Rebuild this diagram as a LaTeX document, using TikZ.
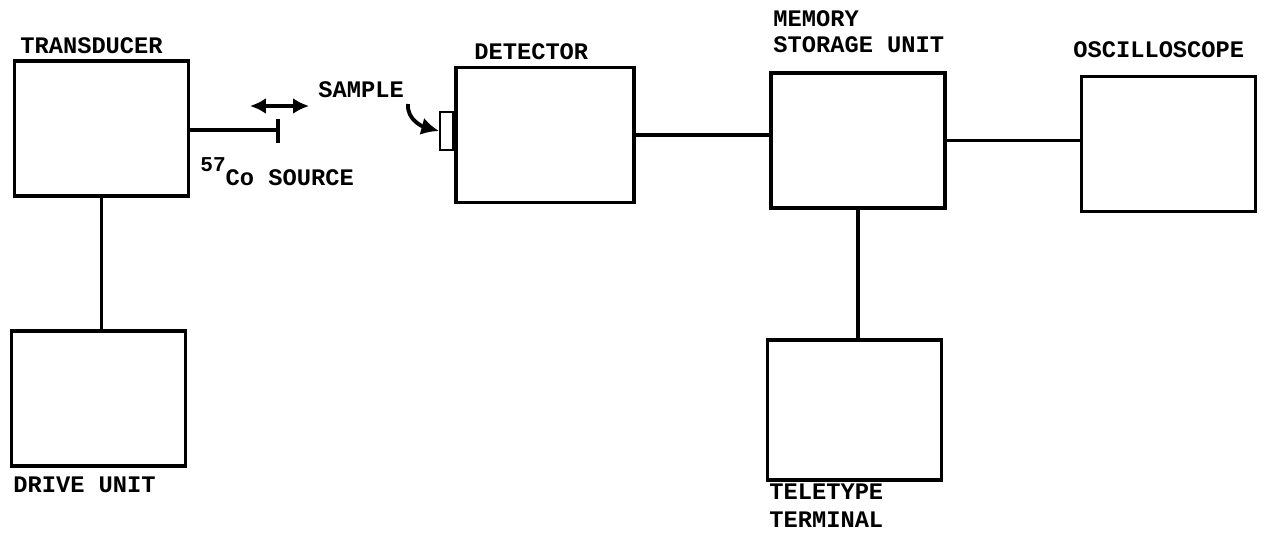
\documentclass[tikz,border=0pt]{standalone}
\usepackage{fontspec}
\newfontfamily\typefont{Liberation Mono}
\usetikzlibrary{arrows.meta, positioning, calc}

\begin{document}
\begin{tikzpicture}[
  x=0.02cm, y=-0.02cm,
  unit/.style={rectangle, draw, line width=2pt, minimum width=3.48cm, minimum height=2.7cm},
  lbl/.style={anchor=west, inner sep=0pt, align=left, font=\typefont\bfseries\fontsize{13.5}{14.6}\selectfont},
  wire/.style={line width=1.8pt},
]
  \useasboundingbox (0,0) rectangle (1266,547);

  \node[unit] (trans) at (101.5,128.5) {};
  \node[unit] (drive) at (98.5,398.5) {};
  \node[unit, minimum width=3.56cm] (det) at (545,135) {};
  \node[unit] (mem) at (858,140.5) {};
  \node[unit] (osc) at (1168.5,144) {};
  \node[unit, minimum height=2.8cm] (tty) at (854.5,410) {};

  % sample plate on the detector window
  \node[rectangle, draw, line width=1.3pt, minimum width=0.26cm, minimum height=0.76cm, inner sep=0pt,
        anchor=east] (sample) at (det.west |- 0,131) {};

  \node[lbl] (transl) at (20,46) {TRANSDUCER};
  \node[lbl] (drivel) at (13,485) {DRIVE UNIT};
  \node[lbl] (detl) at (474,52) {DETECTOR};
  \node[lbl] (meml) at (773,32) {MEMORY\\STORAGE UNIT};
  \node[lbl] (oscl) at (1073,50) {OSCILLOSCOPE};
  \node[lbl, font=\typefont\bfseries\fontsize{13.5}{16}\selectfont] (ttyl) at (769,506) {TELETYPE\\TERMINAL};
  \node[lbl] (samplel) at (318,90) {SAMPLE};
  \node[lbl] (srcl) at (200,172) {\raisebox{0.6em}{\fontsize{12}{12}\selectfont 57}Co SOURCE};

  % source rod
  \coordinate (src) at (278,130);
  \draw[wire] (trans.east |- src) -- (src);
  \draw[wire] ($(src)+(0,-11)$) -- ($(src)+(0,13)$);

  % drive motion
  \coordinate (mvl) at (250,106);
  \coordinate (mvr) at (309,106);
  \draw[{Latex[length=9pt,width=9pt]}-{Latex[length=9pt,width=9pt]}, line width=2.2pt] (mvl) -- (mvr);

  \coordinate (bend) at (408,104);
  \draw[-{Latex[length=10pt,width=10pt]}, line width=2.2pt] (bend) to[out=-95, in=165] (sample.west);

  \draw[wire] (trans.south) -- (trans.south |- drive.north);
  \draw[wire] (det.east) -- (det.east -| mem.west);
  \draw[wire] (mem.east) -- (mem.east -| osc.west);
  \draw[wire] (mem.south) -- (mem.south |- tty.north);

\end{tikzpicture}
\end{document}
